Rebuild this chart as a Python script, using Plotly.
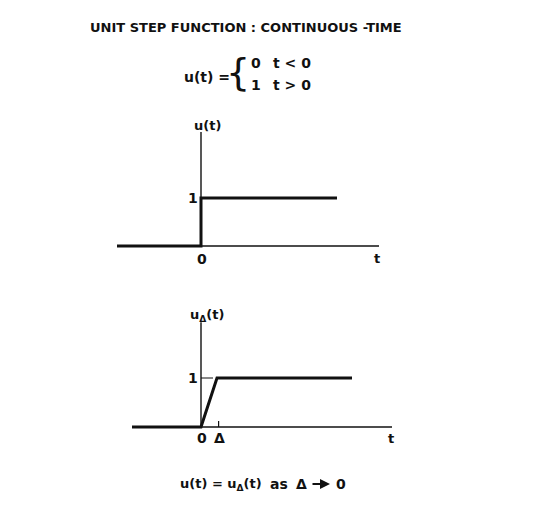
import plotly.graph_objects as go

# ---- data ----
# top: ideal unit step u(t)
step_t = [-2.1, 0, 0, 3.4]
step_u = [0, 0, 1, 1]
top_axis_t = [-2.1, 4.45]
top_axis_u_top = 2.375

# bottom: approximated step u_delta(t) with rise time delta
delta = 0.4
ramp_t = [-1.725, 0, delta, 3.775]
ramp_u = [0, 0, 1, 1]
bot_axis_t = [-1.725, 4.775]
bot_axis_u_top = 2.14

FONT = "DejaVu Sans"
BLACK = "#111111"
W, H, OFF = 552, 501, 8   # page body margin offset

fig = go.Figure()

def line(x, y, xa, ya, w, dash="solid"):
    fig.add_trace(go.Scatter(x=x, y=y, xaxis=xa, yaxis=ya, mode="lines",
                             line=dict(color=BLACK, width=w, dash=dash),
                             hoverinfo="skip", showlegend=False))

# top plot
line(top_axis_t, [0, 0], "x", "y", 1.6)
line([0, 0], [0, top_axis_u_top], "x", "y", 1.4)
line(step_t, step_u, "x", "y", 3)

# bottom plot
line(bot_axis_t, [0, 0], "x2", "y2", 1.6)
line([0, 0], [0, bot_axis_u_top], "x2", "y2", 1.4)
line([0, delta * 0.75], [1, 1], "x2", "y2", 1)
line([delta + 0.04, delta + 0.04], [0, 0.12], "x2", "y2", 1.2)
line(ramp_t, ramp_u, "x2", "y2", 3)

x0 = 201 - OFF
xr = [-x0 / 40, (W - x0) / 40]
ytop0 = 246 - OFF
ybot0 = 427 - OFF
top_dom_px = 0.6 * H   # top subplot covers fig pixels 0 .. 0.6*H
ax_common = dict(visible=False, fixedrange=True)
fig.update_layout(
    width=W, height=H,
    margin=dict(l=0, r=0, t=0, b=0),
    paper_bgcolor="white", plot_bgcolor="white",
    xaxis=dict(range=xr, domain=[0, 1], anchor="y", **ax_common),
    yaxis=dict(range=[(ytop0 - top_dom_px) / 48, ytop0 / 48], domain=[0.4, 1], anchor="x", **ax_common),
    xaxis2=dict(range=xr, domain=[0, 1], anchor="y2", **ax_common),
    yaxis2=dict(range=[(ybot0 - H) / 49, (ybot0 - H / 2) / 49], domain=[0, 0.5], anchor="x2", **ax_common),
    font=dict(family=FONT, color=BLACK, size=13),
)

def ann(text, x, y, xref, yref, size=13, xanchor="center", yanchor="middle", bold=True):
    fig.add_annotation(text=f"<b>{text}</b>" if bold else text, x=x, y=y, xref=xref, yref=yref,
                       showarrow=False, xanchor=xanchor, yanchor=yanchor,
                       font=dict(family=FONT, size=size, color=BLACK))

def P(px, py):
    return (px - OFF) / W, 1 - (py - OFF) / H

# axis labels top
ann("u(t)", 0.16, 2.52, "x", "y")
ann("1", -0.2, 1, "x", "y", size=14)
ann("0", 0.02, -0.27, "x", "y", size=14)
ann("t", 4.4, -0.27, "x", "y", size=13)

# axis labels bottom
ann("u<sub>Δ</sub>(t)", 0.16, 2.28, "x2", "y2")
ann("1", -0.2, 1, "x2", "y2", size=14)
ann("0", 0.02, -0.23, "x2", "y2", size=14)
ann("Δ", delta + 0.07, -0.23, "x2", "y2", size=14)
ann("t", 4.75, -0.23, "x2", "y2", size=13)

# title and equations
x, y = P(246, 28)
ann("UNIT STEP FUNCTION : CONTINUOUS -TIME", x, y, "paper", "paper", size=13)
x, y = P(207, 77)
ann("u(t) =", x, y, "paper", "paper", size=14)
x, y = P(238, 72)
ann("{", x, y, "paper", "paper", size=38, bold=False)
x, y = P(256, 63)
ann("0", x, y, "paper", "paper", size=14)
x, y = P(292, 63)
ann("t < 0", x, y, "paper", "paper", size=14)
x, y = P(256, 85)
ann("1", x, y, "paper", "paper", size=14)
x, y = P(292, 85)
ann("t > 0", x, y, "paper", "paper", size=14)

# caption with drawn arrow
x, y = P(221, 484)
ann("u(t) = u<sub>Δ</sub>(t)", x, y, "paper", "paper", size=13)
x, y = P(279, 484)
ann("as", x, y, "paper", "paper", size=14)
x, y = P(301, 484)
ann("Δ", x, y, "paper", "paper", size=14)
x, y = P(341, 484)
ann("0", x, y, "paper", "paper", size=14)
hx, hy = P(330, 484)
fig.add_annotation(x=hx, y=hy, ax=-19, ay=0, xref="paper", yref="paper",
                   axref="pixel", ayref="pixel", text="", showarrow=True,
                   arrowhead=2, arrowsize=1, arrowwidth=2, arrowcolor=BLACK)

fig.write_html("out.html")
